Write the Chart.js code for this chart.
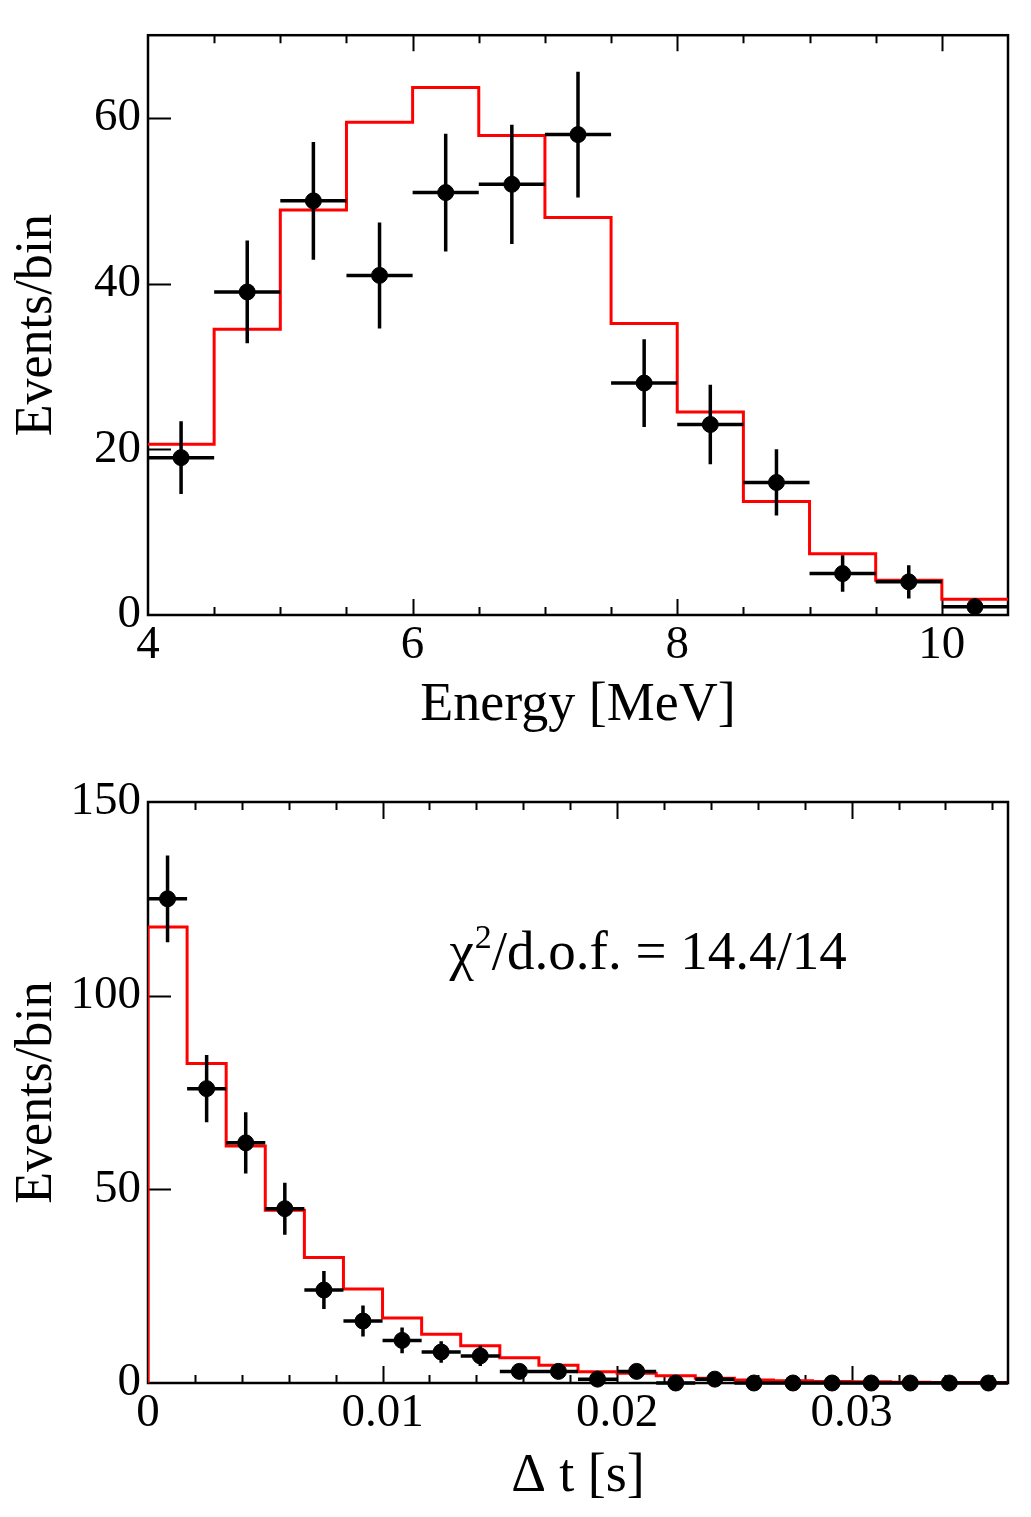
<!DOCTYPE html>
<html>
<head>
<meta charset="utf-8">
<script src="https://cdn.jsdelivr.net/npm/chart.js@4.4.0/dist/chart.umd.min.js"></script>
<style>
  html, body { margin: 0; padding: 0; background: #fff; }
  #wrap { width: 1031px; height: 1517px; position: relative; }
  .box { position: absolute; left: 0; width: 1031px; }
</style>
</head>
<body>
<div id="wrap">
  <div class="box" style="top:0;height:760px"><canvas id="energy"></canvas></div>
  <div class="box" style="top:760px;height:757px"><canvas id="dt"></canvas></div>
</div>
<script>
// ---- energy spectrum (top) ----
const energyEdges = [4.0, 4.5, 5.0, 5.5, 6.0, 6.5, 7.0, 7.5, 8.0, 8.5, 9.0, 9.5, 10.0, 10.5];
const energyCounts = [19, 39, 50, 41, 51, 52, 58, 28, 23, 16, 5, 4, 1];
const energyErr = [4.4, 6.2, 7.1, 6.4, 7.1, 7.2, 7.6, 5.3, 4.8, 4.0, 2.2, 2.0, 1.0];
const energyModel = [20.6, 34.5, 48.9, 59.5, 63.7, 57.9, 48.0, 35.2, 24.5, 13.7, 7.4, 4.2, 1.9];

// ---- time difference (bottom) ----
const dtEdges = [0, 0.001667, 0.003333, 0.005, 0.006667, 0.008333, 0.01, 0.011667,
  0.013333, 0.015, 0.016667, 0.018333, 0.02, 0.021667, 0.023333, 0.025, 0.026667,
  0.028333, 0.03, 0.031667, 0.033333, 0.035, 0.036667];
const dtCounts = [125, 76, 62, 45, 24, 16, 11, 8, 7, 3, 3, 1, 3, 0, 1, 0, 0, 0, 0, 0, 0, 0];
const dtErr = [11.2, 8.7, 7.9, 6.7, 4.9, 4.0, 3.3, 2.8, 2.6, 1.7, 1.7, 1.0, 1.7, 0, 1.0, 0, 0, 0, 0, 0, 0, 0];
const dtModel = [117.7, 82.5, 61.2, 44.6, 32.4, 24.3, 16.8, 12.6, 9.6, 6.5, 4.6, 2.9,
  2.5, 1.9, 1.2, 0.8, 0.6, 0.4, 0.3, 0.2, 0.15, 0.1];

const FONT = "'Liberation Serif', 'Times New Roman', serif";

function centers(edges) {
  const c = [];
  for (let i = 0; i < edges.length - 1; i++) c.push((edges[i] + edges[i + 1]) / 2);
  return c;
}

function points(edges, counts) {
  const c = centers(edges);
  return counts.map((v, i) => ({ x: c[i], y: v }));
}

// step outline through the bin edges
function steps(edges, model, fromZero) {
  const pts = [];
  if (fromZero) pts.push({ x: edges[0], y: 0 });
  model.forEach((v, i) => pts.push({ x: edges[i], y: v }));
  pts.push({ x: edges[edges.length - 1], y: model[model.length - 1] });
  return pts;
}

// frame + inward ticks, drawn before datasets so the red line sits over the axes
const framePlugin = {
  id: 'frame',
  beforeDatasetsDraw(chart, args, o) {
    const { ctx, chartArea: a, scales: { x, y } } = chart;
    ctx.save();
    ctx.strokeStyle = '#000';
    ctx.lineWidth = 2.5;
    ctx.strokeRect(a.left, a.top, a.right - a.left, a.bottom - a.top);
    ctx.lineWidth = 2;
    ctx.beginPath();
    const n = Math.round((x.max - x.min) / o.xMinor);
    for (let k = 1; k <= n; k++) {
      const v = x.min + k * o.xMinor;
      if (v > x.max - 1e-9) break;
      const r = v / o.xMajor;
      const major = Math.abs(r - Math.round(r)) < 1e-3;
      const len = major ? o.majorLen : o.minorLen;
      const px = Math.round(x.getPixelForValue(v)) + 0.5;
      ctx.moveTo(px, a.bottom); ctx.lineTo(px, a.bottom - len);
      ctx.moveTo(px, a.top); ctx.lineTo(px, a.top + len);
    }
    for (let v = o.yMajor; v < y.max; v += o.yMajor) {
      const py = Math.round(y.getPixelForValue(v)) + 0.5;
      ctx.moveTo(a.left, py); ctx.lineTo(a.left + o.yLen, py);
    }
    ctx.stroke();
    ctx.restore();
  }
};

// horizontal bin-width bars and vertical error bars
const errPlugin = {
  id: 'errbars',
  afterDatasetsDraw(chart) {
    const { ctx, scales: { x, y } } = chart;
    const ds = chart.data.datasets[0];
    ctx.save();
    ctx.strokeStyle = '#000';
    ctx.lineWidth = 3.5;
    ctx.beginPath();
    ds.data.forEach((p, i) => {
      const cx = x.getPixelForValue(p.x);
      const cy = y.getPixelForValue(p.y);
      ctx.moveTo(x.getPixelForValue(ds.xEdges[i]), cy);
      ctx.lineTo(x.getPixelForValue(ds.xEdges[i + 1]), cy);
      if (ds.yErr[i] > 0) {
        ctx.moveTo(cx, y.getPixelForValue(p.y + ds.yErr[i]));
        ctx.lineTo(cx, y.getPixelForValue(Math.max(0, p.y - ds.yErr[i])));
      }
    });
    ctx.stroke();
    ctx.restore();
  }
};

const chiPlugin = {
  id: 'chi',
  afterDraw(chart, args, o) {
    if (!o.show) return;
    const { ctx, scales: { x, y } } = chart;
    const px = x.getPixelForValue(0.01285);
    const py = y.getPixelForValue(107);
    ctx.save();
    ctx.fillStyle = '#000';
    ctx.textBaseline = 'alphabetic';
    ctx.font = '55px ' + FONT;
    ctx.fillText('\u03C7', px, py);
    let w = ctx.measureText('\u03C7').width;
    ctx.font = '34px ' + FONT;
    ctx.fillText('2', px + w + 1, py - 21);
    w += ctx.measureText('2').width + 1;
    ctx.font = '55px ' + FONT;
    ctx.fillText('/d.o.f. = 14.4/14', px + w, py);
    ctx.restore();
  }
};

function makeChart(id, cfg) {
  const ctx = document.getElementById(id).getContext('2d');
  return new Chart(ctx, {
    data: {
      datasets: [
        {
          type: 'scatter',
          label: 'data',
          data: points(cfg.edges, cfg.counts),
          xEdges: cfg.edges,
          yErr: cfg.err,
          backgroundColor: '#000',
          borderColor: '#000',
          pointRadius: 8,
          pointHoverRadius: 8,
          showLine: false,
          clip: false,
          order: 0
        },
        {
          type: 'line',
          label: 'model',
          data: steps(cfg.edges, cfg.model, cfg.fromZero),
          borderColor: 'rgb(255, 0, 0)',
          borderWidth: 3,
          pointRadius: 0,
          fill: false,
          stepped: true,
          order: 1
        }
      ]
    },
    options: {
      responsive: true,
      maintainAspectRatio: false,
      animation: false,
      events: [],
      layout: { padding: { top: cfg.padTop, right: 23, left: 0, bottom: 0 } },
      plugins: {
        legend: { display: false },
        tooltip: { enabled: false },
        frame: cfg.frame,
        chi: { show: cfg.chi }
      },
      scales: {
        x: {
          type: 'linear',
          min: cfg.xMin,
          max: cfg.xMax,
          grid: { display: false, drawTicks: false },
          border: { display: false },
          ticks: {
            stepSize: cfg.xStep,
            includeBounds: false,
            padding: 2,
            color: '#000',
            font: { family: FONT, size: 47 },
            callback: v => String(Number(v.toFixed(4)))
          },
          title: {
            display: true,
            text: cfg.xTitle,
            color: '#000',
            font: { family: FONT, size: 54 },
            padding: { top: 0, bottom: cfg.xTitlePad }
          },
          afterFit: s => { s.height = cfg.xAxisHeight; }
        },
        y: {
          type: 'linear',
          min: 0,
          max: cfg.yMax,
          grid: { display: false, drawTicks: false },
          border: { display: false },
          ticks: {
            stepSize: cfg.yStep,
            includeBounds: false,
            padding: 7,
            color: '#000',
            font: { family: FONT, size: 47 }
          },
          title: {
            display: true,
            text: 'Events/bin',
            color: '#000',
            font: { family: FONT, size: 52 },
            padding: { top: 6, bottom: 0 }
          },
          afterFit: s => { s.width = 148; }
        }
      }
    },
    plugins: [framePlugin, errPlugin, chiPlugin]
  });
}

makeChart('energy', {
  edges: energyEdges, counts: energyCounts, err: energyErr, model: energyModel,
  fromZero: false, padTop: 33, xMin: 4, xMax: 10.5, xStep: 2, yMax: 70, yStep: 20,
  xTitle: 'Energy [MeV]', xTitlePad: 22, xAxisHeight: 145, chi: false,
  frame: { xMinor: 0.5, xMajor: 2, majorLen: 16, minorLen: 8, yMajor: 20, yLen: 23 }
});

makeChart('dt', {
  edges: dtEdges, counts: dtCounts, err: dtErr, model: dtModel,
  fromZero: true, padTop: 42, xMin: 0, xMax: 0.036667, xStep: 0.01, yMax: 150, yStep: 50,
  xTitle: '\u0394 t [s]', xTitlePad: 8, xAxisHeight: 134, chi: true,
  frame: { xMinor: 0.002, xMajor: 0.01, majorLen: 17, minorLen: 8, yMajor: 50, yLen: 23 }
});
</script>
</body>
</html>
